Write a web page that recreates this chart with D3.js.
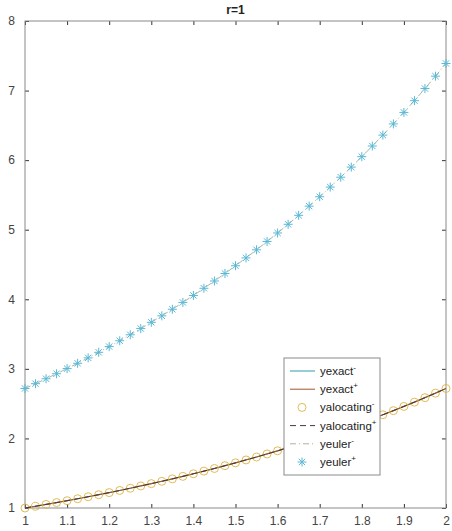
<!DOCTYPE html>
<html>
<head>
<meta charset="utf-8">
<script src="https://cdn.jsdelivr.net/npm/d3@7"></script>
<style>
  body { margin: 0; background: #fff; }
  svg { font-family: Arial, "Liberation Sans", sans-serif; }
</style>
</head>
<body>
<div id="chart"></div>
<script>
// x grid, 1 to 2
const xValues = [1.000, 1.025, 1.050, 1.075, 1.100, 1.125, 1.150, 1.175, 1.200, 1.225,
  1.250, 1.275, 1.300, 1.325, 1.350, 1.375, 1.400, 1.425, 1.450, 1.475,
  1.500, 1.525, 1.550, 1.575, 1.600, 1.625, 1.650, 1.675, 1.700, 1.725,
  1.750, 1.775, 1.800, 1.825, 1.850, 1.875, 1.900, 1.925, 1.950, 1.975, 2.000];

// lower curve (exact / alocating)
const lowerValues = [1.000, 1.025, 1.051, 1.078, 1.105, 1.133, 1.162, 1.191, 1.221, 1.252,
  1.284, 1.317, 1.350, 1.384, 1.419, 1.455, 1.492, 1.530, 1.568, 1.608,
  1.649, 1.691, 1.733, 1.777, 1.822, 1.868, 1.916, 1.964, 2.014, 2.065,
  2.117, 2.171, 2.226, 2.282, 2.340, 2.399, 2.460, 2.522, 2.586, 2.651, 2.718];

// upper curve (euler)
const upperValues = [2.718, 2.787, 2.858, 2.930, 3.004, 3.080, 3.158, 3.238, 3.320, 3.404,
  3.490, 3.579, 3.669, 3.762, 3.857, 3.955, 4.055, 4.158, 4.263, 4.371,
  4.482, 4.595, 4.711, 4.831, 4.953, 5.078, 5.207, 5.339, 5.474, 5.613,
  5.755, 5.900, 6.050, 6.203, 6.360, 6.521, 6.686, 6.855, 7.029, 7.207, 7.389];

const xTicks = [1, 1.1, 1.2, 1.3, 1.4, 1.5, 1.6, 1.7, 1.8, 1.9, 2];
const yTicks = [1, 2, 3, 4, 5, 6, 7, 8];
const seriesNames = ['yexact', 'yexact', 'yalocating', 'yalocating', 'yeuler', 'yeuler'];
const seriesSigns = ['-', '+', '-', '+', '-', '+'];

const W = 452, H = 531;
const margin = { top: 21, right: 6, bottom: 23, left: 25 };
const width = W - margin.left - margin.right,
  height = H - margin.top - margin.bottom;

const svg = d3.select('#chart').append('svg')
  .attr('width', W).attr('height', H);

const g = svg.append('g')
  .attr('transform', 'translate(' + margin.left + ',' + margin.top + ')');

const x = d3.scaleLinear().domain([1, 2]).range([0, width]);
const y = d3.scaleLinear().domain([1, 8]).range([height, 0]);

const axisColor = '#8a8a8a';
const textColor = '#444';

const styleAxis = (sel) => {
  sel.select('.domain').remove();
  sel.selectAll('line').attr('stroke', '#333').attr('stroke-width', 1);
  sel.selectAll('text').attr('fill', textColor).style('font-size', '12px');
};

// bottom / left axes with inward ticks
g.append('g').attr('transform', 'translate(0,' + height + ')')
  .call(d3.axisBottom(x).tickValues(xTicks).tickSize(-4).tickPadding(8).tickFormat(d3.format('')))
  .call(styleAxis);
g.append('g')
  .call(d3.axisLeft(y).tickValues(yTicks).tickSize(-4).tickPadding(10).tickFormat(d3.format('d')))
  .call(styleAxis);
// mirrored ticks top / right
g.append('g')
  .call(d3.axisTop(x).tickValues(xTicks).tickSize(-4).tickFormat(''))
  .call(styleAxis);
g.append('g').attr('transform', 'translate(' + width + ',0)')
  .call(d3.axisRight(y).tickValues(yTicks).tickSize(-4).tickFormat(''))
  .call(styleAxis);

g.append('rect').attr('width', width).attr('height', height)
  .attr('fill', 'none').attr('stroke', axisColor).attr('stroke-width', 1);

const lineOf = (vals) => d3.line().x((d, i) => x(xValues[i])).y(d => y(d))(vals);

const colors = {
  exactMinus: '#2e9aa8',
  exactPlus: '#a0562a',
  locMinus: '#dcb445',
  locPlus: '#4a3636',
  eulerMinus: '#a8b89a',
  eulerPlus: '#5ab8d6'
};

// lower curve
g.append('path').attr('d', lineOf(lowerValues)).attr('fill', 'none')
  .attr('stroke', colors.exactMinus).attr('stroke-width', 1);
g.append('path').attr('d', lineOf(lowerValues)).attr('fill', 'none')
  .attr('stroke', colors.exactPlus).attr('stroke-width', 1.2);
g.append('g').selectAll('circle').data(lowerValues).enter().append('circle')
  .attr('cx', (d, i) => x(xValues[i])).attr('cy', d => y(d)).attr('r', 4)
  .attr('fill', 'none').attr('stroke', colors.locMinus).attr('stroke-width', 0.9);
g.append('path').attr('d', lineOf(lowerValues)).attr('fill', 'none')
  .attr('stroke', colors.locPlus).attr('stroke-width', 1).attr('stroke-dasharray', '6,4');

// upper curve
g.append('path').attr('d', lineOf(upperValues)).attr('fill', 'none')
  .attr('stroke', colors.eulerMinus).attr('stroke-width', 1).attr('stroke-dasharray', '6,3,1,3');

const star = (sel, c) => {
  const r = 4.5;
  [[-r, 0, r, 0], [0, -r, 0, r], [-r * 0.7, -r * 0.7, r * 0.7, r * 0.7], [-r * 0.7, r * 0.7, r * 0.7, -r * 0.7]]
    .forEach(s => sel.append('line')
      .attr('x1', s[0]).attr('y1', s[1]).attr('x2', s[2]).attr('y2', s[3])
      .attr('stroke', c).attr('stroke-width', 1));
};
g.append('g').selectAll('g').data(upperValues).enter().append('g')
  .attr('transform', (d, i) => 'translate(' + x(xValues[i]) + ',' + y(d) + ')')
  .each(function () { star(d3.select(this), colors.eulerPlus); });

// title
svg.append('text').attr('x', margin.left + width / 2).attr('y', 14)
  .attr('text-anchor', 'middle').style('font-size', '12px').style('font-weight', 'bold')
  .attr('fill', '#222').text('r=1');

// legend
const lg = svg.append('g').attr('transform', 'translate(284,358)');
lg.append('rect').attr('width', 96).attr('height', 117)
  .attr('fill', '#fff').attr('stroke', axisColor).attr('stroke-width', 1);

const legendRows = lg.selectAll('g.row').data(seriesNames).enter().append('g')
  .attr('class', 'row')
  .attr('transform', (d, i) => 'translate(0,' + (13 + i * 18.2) + ')');

legendRows.each(function (d, i) {
  const row = d3.select(this);
  const styles = [
    [colors.exactMinus, null], [colors.exactPlus, null], null,
    [colors.locPlus, '6,4'], [colors.eulerMinus, '6,3,1,3'], null
  ];
  if (i === 2) {
    row.append('circle').attr('cx', 18).attr('cy', 0).attr('r', 4)
      .attr('fill', 'none').attr('stroke', colors.locMinus).attr('stroke-width', 0.9);
  } else if (i === 5) {
    const sg = row.append('g').attr('transform', 'translate(18,0)');
    star(sg, colors.eulerPlus);
  } else {
    row.append('line').attr('x1', 6).attr('x2', 31).attr('y1', 0).attr('y2', 0)
      .attr('stroke', styles[i][0]).attr('stroke-width', 1)
      .attr('stroke-dasharray', styles[i][1]);
  }
  const t = row.append('text').attr('x', 36).attr('y', 4)
    .style('font-size', '11.5px').attr('fill', '#222');
  t.append('tspan').text(d);
  t.append('tspan').attr('dy', -5).style('font-size', '8px').text(seriesSigns[i]);
});
</script>
</body>
</html>
